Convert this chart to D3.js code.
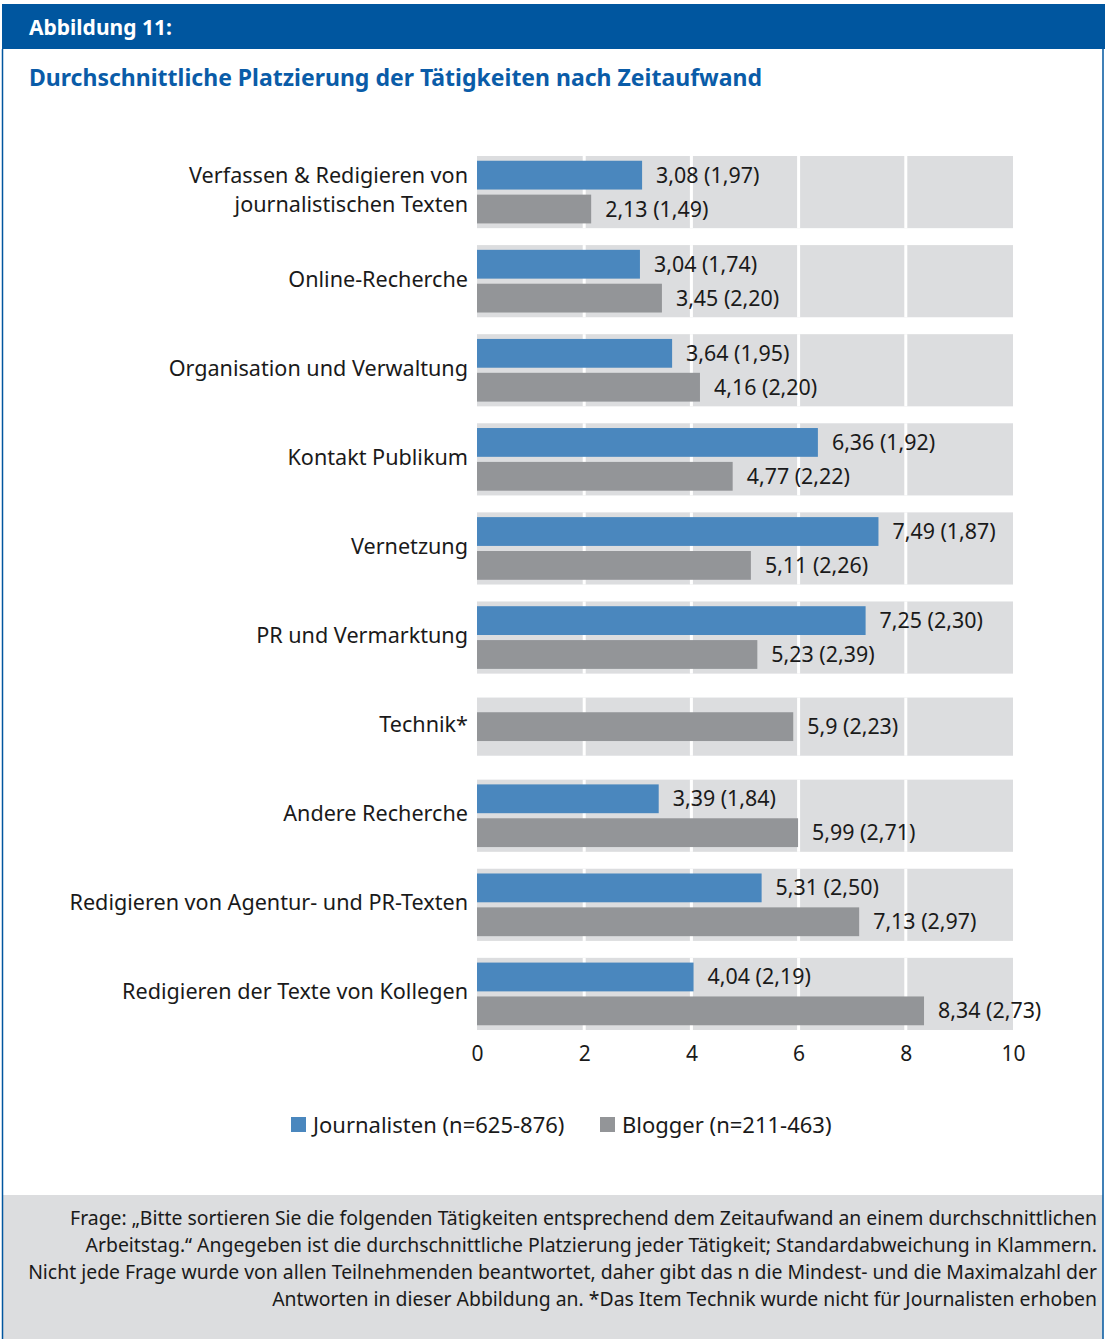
<!DOCTYPE html>
<html>
<head>
<meta charset="utf-8">
<script src="https://cdn.jsdelivr.net/npm/d3@7"></script>
<style>
  body { margin: 0; background: #fff; }
  svg text { font-family: "Noto Sans", "Open Sans", sans-serif; }
</style>
</head>
<body>
<svg id="chart" width="1105" height="1339"></svg>
<script>
// data
var categories = [
  ["Verfassen & Redigieren von", "journalistischen Texten"],
  ["Online-Recherche"],
  ["Organisation und Verwaltung"],
  ["Kontakt Publikum"],
  ["Vernetzung"],
  ["PR und Vermarktung"],
  ["Technik*"],
  ["Andere Recherche"],
  ["Redigieren von Agentur- und PR-Texten"],
  ["Redigieren der Texte von Kollegen"]
];
var journalisten = [3.08, 3.04, 3.64, 6.36, 7.49, 7.25, null, 3.39, 5.31, 4.04];
var journalistenSd = [1.97, 1.74, 1.95, 1.92, 1.87, 2.30, null, 1.84, 2.50, 2.19];
var blogger = [2.13, 3.45, 4.16, 4.77, 5.11, 5.23, 5.9, 5.99, 7.13, 8.34];
var bloggerSd = [1.49, 2.20, 2.20, 2.22, 2.26, 2.39, 2.23, 2.71, 2.97, 2.73];
var xTicks = [0, 2, 4, 6, 8, 10];
var seriesNames = ["Journalisten (n=625-876)", "Blogger (n=211-463)"];
var colors = ["#4a87be", "#939598"];
var footnote = [
  "Frage: „Bitte sortieren Sie die folgenden Tätigkeiten entsprechend dem Zeitaufwand an einem durchschnittlichen",
  "Arbeitstag.“ Angegeben ist die durchschnittliche Platzierung jeder Tätigkeit; Standardabweichung in Klammern.",
  "Nicht jede Frage wurde von allen Teilnehmenden beantwortet, daher gibt das n die Mindest- und die Maximalzahl der",
  "Antworten in dieser Abbildung an. *Das Item Technik wurde nicht für Journalisten erhoben"
];

var svg = d3.select("#chart");
var W = 1105, H = 1339;

// frame
svg.append("rect").attr("x", 2).attr("y", 4).attr("width", W - 2).attr("height", 45).attr("fill", "#00569f");
svg.append("rect").attr("x", 2).attr("y", 1195).attr("width", W - 4).attr("height", H - 1195).attr("fill", "#dcdddf");
svg.append("line").attr("x1", 2.5).attr("x2", 2.5).attr("y1", 49).attr("y2", H).attr("stroke", "#00569f").attr("stroke-width", 1.5);
svg.append("line").attr("x1", 1103).attr("x2", 1103).attr("y1", 49).attr("y2", H).attr("stroke", "#00569f").attr("stroke-width", 1.5);

svg.append("text").attr("x", 29).attr("y", 35).attr("fill", "#fff")
  .style("font-size", "21px").style("font-weight", "bold").text("Abbildung 11:");
svg.append("text").attr("x", 29).attr("y", 86).attr("fill", "#0a5ca8")
  .style("font-size", "23px").style("font-weight", "bold")
  .text("Durchschnittliche Platzierung der Tätigkeiten nach Zeitaufwand");

// scales
var x = d3.scaleLinear().domain([0, 10]).range([477, 1013]);
var y = d3.scaleBand().domain(d3.range(categories.length)).range([156, 1030]).paddingInner(0.19);
var sub = d3.scaleBand().domain([0, 1]).range([0, y.bandwidth()]).paddingInner(0.15).paddingOuter(0.14);

var rows = categories.map(function (c, i) {
  var bars = [];
  if (journalisten[i] != null) bars.push({ s: 0, v: journalisten[i], sd: journalistenSd[i] });
  if (blogger[i] != null) bars.push({ s: 1, v: blogger[i], sd: bloggerSd[i] });
  return { i: i, label: c, bars: bars };
});

function fmt(v) { return String(v).replace(".", ","); }
function fmtSd(v) { return v.toFixed(2).replace(".", ","); }

var g = svg.append("g");
var row = g.selectAll("g.row").data(rows).enter().append("g").attr("class", "row");

// grey background band
row.append("rect")
  .attr("x", x(0)).attr("width", x(10) - x(0))
  .attr("y", function (d) { return d.bars.length == 1 ? y(d.i) + 7 : y(d.i); })
  .attr("height", function (d) { return d.bars.length == 1 ? y.bandwidth() - 14 : y.bandwidth(); })
  .attr("fill", "#dcdddf");

// white grid lines
row.each(function (d) {
  var inset = d.bars.length == 1 ? 7 : 0;
  d3.select(this).selectAll("line.grid").data(xTicks.slice(1, -1)).enter().append("line")
    .attr("x1", function (t) { return x(t); }).attr("x2", function (t) { return x(t); })
    .attr("y1", y(d.i) + inset).attr("y2", y(d.i) + y.bandwidth() - inset)
    .attr("stroke", "#fff").attr("stroke-width", 3);
});

function barY(d, b) {
  if (d.bars.length == 1) return y(d.i) + (y.bandwidth() - sub.bandwidth()) / 2;
  return y(d.i) + sub(b.s);
}

row.each(function (d) {
  var r = d3.select(this);
  r.selectAll("rect.bar").data(d.bars).enter().append("rect")
    .attr("x", x(0))
    .attr("y", function (b) { return barY(d, b); })
    .attr("width", function (b) { return x(b.v) - x(0); })
    .attr("height", sub.bandwidth())
    .attr("fill", function (b) { return colors[b.s]; });
  r.selectAll("text.val").data(d.bars).enter().append("text")
    .attr("x", function (b) { return x(b.v) + 14; })
    .attr("y", function (b) { return barY(d, b) + sub.bandwidth() / 2; })
    .attr("dy", "0.35em")
    .attr("fill", "#1a1a1a")
    .style("font-size", "21.4px")
    .text(function (b) { return fmt(b.v) + " (" + fmtSd(b.sd) + ")"; });
  var lab = r.append("text")
    .attr("text-anchor", "end")
    .attr("fill", "#1a1a1a")
    .style("font-size", "21.6px");
  var n = d.label.length;
  d.label.forEach(function (l, k) {
    lab.append("tspan")
      .attr("x", 468)
      .attr("y", y(d.i) + y.bandwidth() / 2 + (k - (n - 1) / 2) * 29 - 2)
      .attr("dy", "0.35em")
      .text(l);
  });
});

// x axis labels
var axis = d3.axisBottom(x).tickValues(xTicks).tickSize(0).tickPadding(0).tickFormat(d3.format("d"));
var ax = svg.append("g").attr("transform", "translate(0,1046)").call(axis);
ax.select(".domain").remove();
ax.selectAll("text").style("font-size", "21px").attr("fill", "#1a1a1a").style("font-family", "'Noto Sans', sans-serif");

// legend
var legendX = [291, 600];
var leg = svg.append("g").selectAll("g").data(seriesNames).enter().append("g")
  .attr("transform", function (d, i) { return "translate(" + legendX[i] + ",1117)"; });
leg.append("rect").attr("width", 15).attr("height", 15).attr("fill", function (d, i) { return colors[i]; });
leg.append("text").attr("x", 22).attr("y", 8).attr("dy", "0.35em")
  .attr("fill", "#1a1a1a").style("font-size", "22px").text(function (d) { return d; });

// footnote
svg.append("g").selectAll("text").data(footnote).enter().append("text")
  .attr("x", 1097).attr("y", function (d, i) { return 1225 + i * 27; })
  .attr("text-anchor", "end").attr("fill", "#1a1a1a")
  .style("font-size", "19.4px").text(function (d) { return d; });
</script>
</body>
</html>
